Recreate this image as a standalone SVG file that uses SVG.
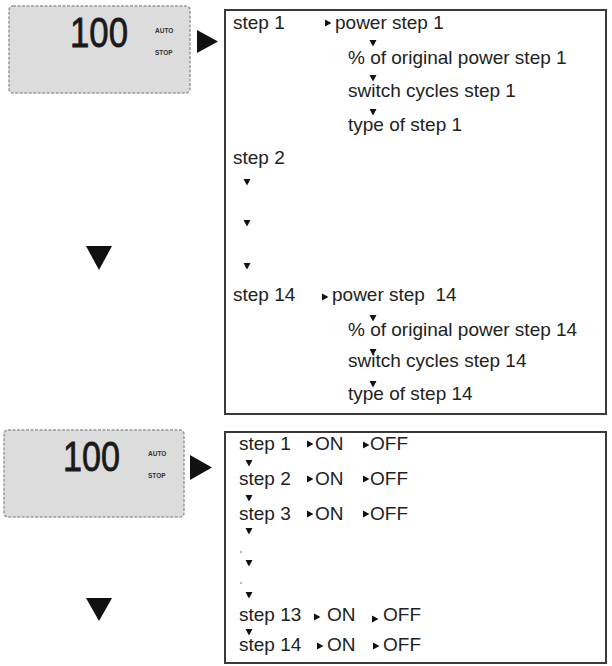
<svg xmlns="http://www.w3.org/2000/svg" width="612" height="666" viewBox="0 0 612 666">
<style>
.lcd{fill:#dcdcdc;stroke:#999;stroke-width:1.5;stroke-dasharray:3 1.5}
.big{font-family:"Liberation Sans",Arial,sans-serif;font-size:42px;fill:#1a1a1a;stroke:#1a1a1a;stroke-width:0.8}
.tiny{font-family:"Liberation Sans",Arial,sans-serif;font-size:6.5px;font-weight:bold;fill:#333}
.box{fill:#fff;stroke:#3a3a3a;stroke-width:2}
.t{font-family:"Liberation Sans",Arial,sans-serif;font-size:19px;fill:#222;white-space:pre}
.tri{fill:#111}
.dot{fill:#bbb}
</style>
<defs>
<path id="dn" d="M-3.5,-3 L3.5,-3 L0,3.5 Z"/>
<path id="rt" d="M-3,-3.5 L3.5,0 L-3,3.5 Z"/>
</defs>

<g id="lcd-top">
<rect class="lcd" x="9" y="6" width="181" height="87" rx="4"/>
<text class="big" x="70" y="47" textLength="58" lengthAdjust="spacingAndGlyphs">100</text>
<text class="tiny" x="155" y="33">AUTO</text>
<text class="tiny" x="155" y="55">STOP</text>
</g>

<g id="menu-top">
<rect class="box" x="225" y="10" width="381" height="404"/>
<text class="t" x="233" y="29">step 1</text>
<use href="#rt" class="tri" x="328" y="23"/>
<text class="t" x="335" y="29">power step 1</text>
<use href="#dn" class="tri" x="373" y="43"/>
<text class="t" x="348" y="64">% of original power step 1</text>
<use href="#dn" class="tri" x="373" y="78"/>
<text class="t" x="348" y="97">switch cycles step 1</text>
<use href="#dn" class="tri" x="373" y="112"/>
<text class="t" x="348" y="131">type of step 1</text>
<text class="t" x="233" y="164">step 2</text>
<use href="#dn" class="tri" x="247" y="182"/>
<use href="#dn" class="tri" x="247" y="223"/>
<use href="#dn" class="tri" x="247" y="266"/>
<text class="t" x="233" y="301">step 14</text>
<use href="#rt" class="tri" x="325" y="297"/>
<text class="t" x="332" y="301" xml:space="preserve">power step  14</text>
<use href="#dn" class="tri" x="373" y="318"/>
<text class="t" x="348" y="336">% of original power step 14</text>
<use href="#dn" class="tri" x="373" y="352"/>
<text class="t" x="348" y="367">switch cycles step 14</text>
<use href="#dn" class="tri" x="373" y="384"/>
<text class="t" x="348" y="400">type of step 14</text>
</g>

<g id="lcd-bottom">
<rect class="lcd" x="4" y="430" width="180" height="87" rx="4"/>
<text class="big" x="63" y="471" textLength="57" lengthAdjust="spacingAndGlyphs">100</text>
<text class="tiny" x="148" y="456">AUTO</text>
<text class="tiny" x="148" y="478">STOP</text>
</g>

<g id="menu-bottom">
<rect class="box" x="225" y="432" width="381" height="231"/>
<text class="t" x="239" y="450">step 1</text>
<use href="#rt" class="tri" x="310" y="444"/>
<text class="t" x="315" y="450">ON</text>
<use href="#rt" class="tri" x="366" y="445"/>
<text class="t" x="370" y="450">OFF</text>
<use href="#dn" class="tri" x="249" y="463"/>
<text class="t" x="239" y="485">step 2</text>
<use href="#rt" class="tri" x="310" y="479"/>
<text class="t" x="315" y="485">ON</text>
<use href="#rt" class="tri" x="366" y="479"/>
<text class="t" x="370" y="485">OFF</text>
<use href="#dn" class="tri" x="249" y="498"/>
<text class="t" x="239" y="520">step 3</text>
<use href="#rt" class="tri" x="310" y="514"/>
<text class="t" x="315" y="520">ON</text>
<use href="#rt" class="tri" x="366" y="514"/>
<text class="t" x="370" y="520">OFF</text>
<use href="#dn" class="tri" x="249" y="531"/>
<circle class="dot" cx="241" cy="552" r="1.2"/>
<use href="#dn" class="tri" x="249" y="563"/>
<circle class="dot" cx="241" cy="583" r="1.2"/>
<use href="#dn" class="tri" x="249" y="595"/>
<text class="t" x="239" y="621">step 13</text>
<use href="#rt" class="tri" x="317" y="617"/>
<text class="t" x="327" y="621">ON</text>
<use href="#rt" class="tri" x="375" y="619"/>
<text class="t" x="383" y="621">OFF</text>
<use href="#dn" class="tri" x="249" y="632"/>
<text class="t" x="239" y="651">step 14</text>
<use href="#rt" class="tri" x="320" y="646"/>
<text class="t" x="327" y="651">ON</text>
<use href="#rt" class="tri" x="376" y="646"/>
<text class="t" x="383" y="651">OFF</text>
</g>

<g id="connectors">
<polygon class="tri" points="197,30 218,41.5 197,53"/>
<polygon class="tri" points="86,246 112,246 99,270"/>
<polygon class="tri" points="190,455 212,467.5 190,480"/>
<polygon class="tri" points="86,598 112,598 99,621"/>
</g>
</svg>
